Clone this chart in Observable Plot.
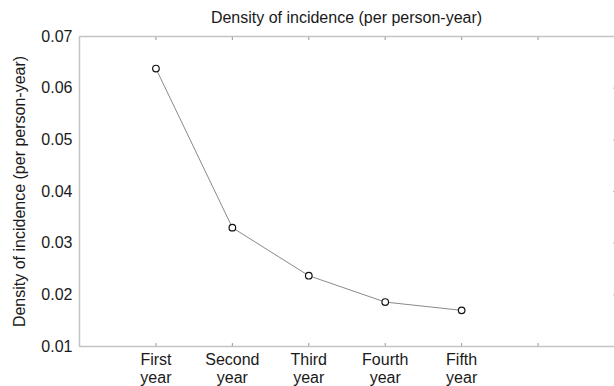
<!DOCTYPE html>
<html>
<head>
<meta charset="utf-8">
<script src="https://cdn.jsdelivr.net/npm/d3@7"></script>
<script src="https://cdn.jsdelivr.net/npm/@observablehq/plot@0.6"></script>
<style>
  html, body { margin: 0; padding: 0; background: #fff; }
  #wrap { width: 614px; height: 386px; overflow: hidden; font-family: "Liberation Sans", Arial, sans-serif; }
  #title { height: 27px; box-sizing: border-box; padding-top: 9px; padding-left: 79px; text-align: center; font-size: 16px; line-height: 18px; color: #1a1a1a; white-space: nowrap; }
</style>
</head>
<body>
<div id="wrap">
  <div id="title">Density of incidence (per person-year)</div>
  <div id="chart"></div>
</div>
<script>
const categories = ["First\nyear", "Second\nyear", "Third\nyear", "Fourth\nyear", "Fifth\nyear"];
const positions = [1, 2, 3, 4, 5];
const values = [0.0638, 0.0330, 0.0237, 0.0186, 0.0170];
const xTicks = [1, 2, 3, 4, 5, 6];
const yTicks = [0.01, 0.02, 0.03, 0.04, 0.05, 0.06, 0.07];
const xDomain = [0, 7];
const yDomain = [0.01, 0.07];
const yLabel = "Density of incidence (per person-year)";

const data = positions.map((p, i) => ({x: p, y: values[i], label: categories[i]}));

const frameColor = "#c4c4c4";

const chart = Plot.plot({
  width: 614,
  height: 359,
  marginTop: 9,
  marginBottom: 40,
  marginLeft: 79,
  marginRight: 0,
  style: {fontFamily: "Liberation Sans, Arial, sans-serif", fontSize: "16px", color: "#1a1a1a", background: "#fff"},
  x: {domain: xDomain},
  y: {domain: yDomain},
  marks: [
    Plot.ruleX([xDomain[0]], {stroke: frameColor, strokeWidth: 1.5}),
    Plot.ruleY([yDomain[0]], {stroke: frameColor, strokeWidth: 1.5}),
    Plot.ruleY([yDomain[1]], {stroke: frameColor, strokeWidth: 1.5}),
    Plot.axisX(xTicks, {anchor: "bottom", tickSize: -3, stroke: "#999", tickPadding: 9, lineHeight: 1.125,
      tickFormat: d => (d >= 1 && d <= categories.length) ? categories[d - 1] : "", label: null, fontSize: 16}),
    Plot.axisX(xTicks, {anchor: "top", tickSize: -3, stroke: "#999", tickFormat: () => "", label: null}),
    Plot.axisY(yTicks, {anchor: "left", tickSize: 0, tickPadding: 7, tickFormat: d3.format(".2f"),
      label: null, fontSize: 16}),
    Plot.text([yLabel], {text: d => d, frameAnchor: "left", textAnchor: "middle", rotate: -90, dx: -60, fontSize: 16, fill: "#1a1a1a"}),
    Plot.axisY(yTicks.slice(1, -1), {anchor: "right", tickSize: -2, stroke: "#bbb", tickFormat: () => "", label: null}),
    Plot.line(data, {x: "x", y: "y", stroke: "#8a8a8a", strokeWidth: 1}),
    Plot.dot(data, {x: "x", y: "y", r: 3.3, stroke: "#111", strokeWidth: 1.2, fill: "#fff"})
  ]
});
document.getElementById("chart").appendChild(chart);
</script>
</body>
</html>
